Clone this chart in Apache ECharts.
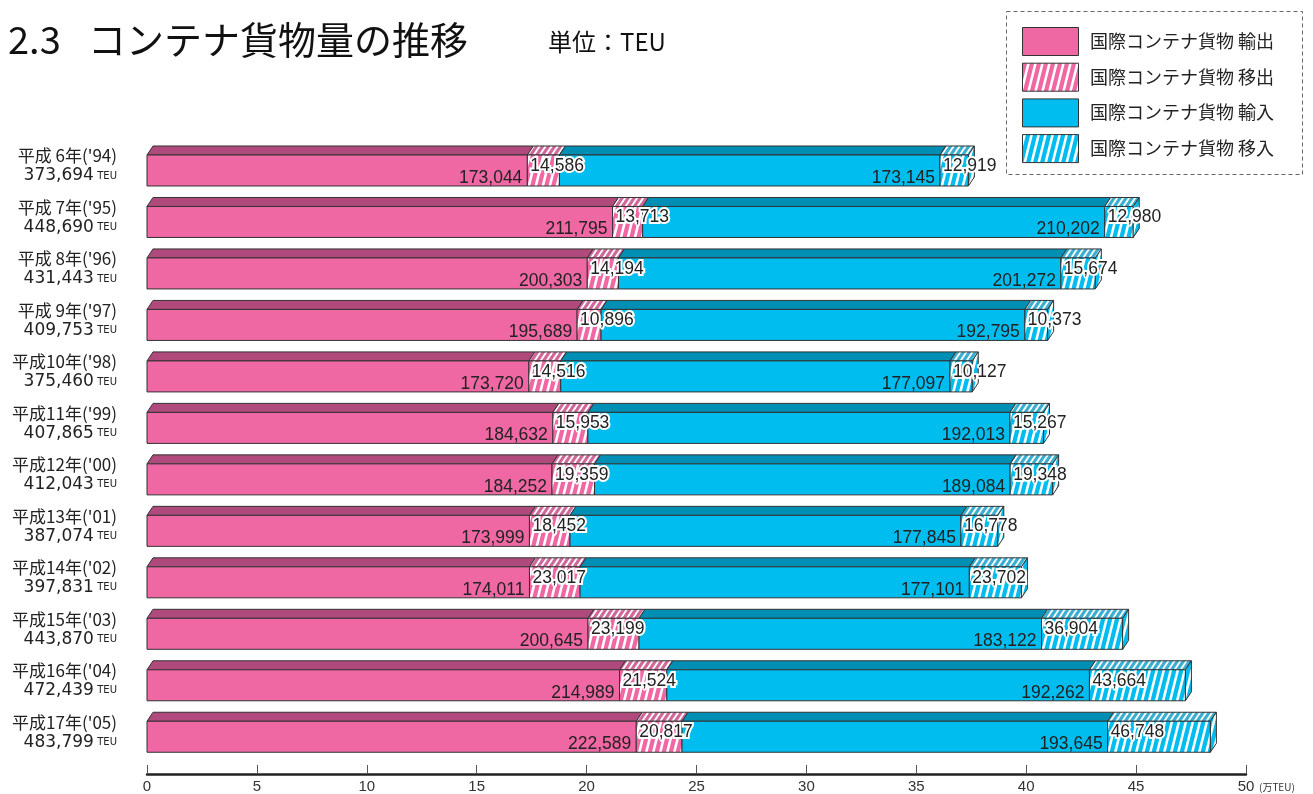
<!DOCTYPE html>
<html><head><meta charset="utf-8">
<script src="https://cdn.jsdelivr.net/npm/echarts@6/dist/echarts.min.js"></script>
<style>html,body{margin:0;padding:0;background:#fff}#c{width:1313px;height:794px}</style>
</head><body><div id="c"></div>
<script>
// ---- data ----
const years = ["平成 6年('94)","平成 7年('95)","平成 8年('96)","平成 9年('97)","平成10年('98)","平成11年('99)","平成12年('00)","平成13年('01)","平成14年('02)","平成15年('03)","平成16年('04)","平成17年('05)"];
const intlExport = [173044,211795,200303,195689,173720,184632,184252,173999,174011,200645,214989,222589];
const domExport  = [14586,13713,14194,10896,14516,15953,19359,18452,23017,23199,21524,20817];
const intlImport = [173145,210202,201272,192795,177097,192013,189084,177845,177101,183122,192262,193645];
const domImport  = [12919,12980,15674,10373,10127,15267,19348,16778,23702,36904,43664,46748];
const seriesNames = ['国際コンテナ貨物 輸出','国際コンテナ貨物 移出','国際コンテナ貨物 輸入','国際コンテナ貨物 移入'];
const xMin = 0, xMax = 50, xInterval = 5;
const UNIT = 10000; // values in TEU, axis in 万TEU

// ---- styling helpers ----
const PINK = '#EF68A4', PINK_TOP = '#B04A7C';
const CYAN = '#00BDEF', CYAN_TOP = '#008FB4';
function makeHatch(base, w, h, stripe) {
  const c = document.createElement('canvas'); c.width = w; c.height = h;
  const g = c.getContext('2d'); g.fillStyle = base; g.fillRect(0, 0, w, h);
  g.fillStyle = '#fff';
  for (let k = -2; k <= 2; k++) {
    const x0 = k * w;
    g.beginPath(); g.moveTo(x0 + w, 0); g.lineTo(x0 + w + stripe, 0);
    g.lineTo(x0 + stripe, h); g.lineTo(x0, h); g.closePath(); g.fill();
  }
  return c;
}
const pinkHatch = {image: makeHatch(PINK, 7, 28, 2.6), repeat: 'repeat'};
const pinkHatchTop = {image: makeHatch('#D0699A', 6, 9, 2.2), repeat: 'repeat'};
const cyanHatch = {image: makeHatch(CYAN, 7, 28, 2.6), repeat: 'repeat'};
const cyanHatchTop = {image: makeHatch('#3AAFD2', 6, 9, 2.2), repeat: 'repeat'};

const segStyles = [
  {front: PINK, top: PINK_TOP, label: 'end', halo: false},
  {front: pinkHatch, top: pinkHatchTop, label: 'start', halo: true},
  {front: CYAN, top: CYAN_TOP, label: 'end', halo: false},
  {front: cyanHatch, top: cyanHatchTop, label: 'start', halo: true, side: true}
];
const allValues = [intlExport, domExport, intlImport, domImport];
const fmt = v => v.toLocaleString('en-US');

function makeRender(k) {
  const st = segStyles[k];
  return function (params, api) {
    const cat = api.value(0), s = api.value(1), e = api.value(2), v = api.value(3);
    const p0 = api.coord([s, cat]), p1 = api.coord([e, cat]);
    const cy = p0[1], x0 = p0[0], x1 = p1[0];
    const yt = cy - 20, ym = cy - 11, yb = cy + 20, dx = 6;
    const border = {stroke: '#333', lineWidth: 1};
    const children = [
      {type: 'polygon', z2: 1, shape: {points: [[x0, ym], [x0 + dx, yt], [x1 + dx, yt], [x1, ym]]}, style: Object.assign({fill: st.top}, border)},
      {type: 'rect', z2: 1, shape: {x: x0, y: ym, width: x1 - x0, height: yb - ym}, style: Object.assign({fill: st.front}, border)}
    ];
    if (st.side) {
      children.push({type: 'polygon', z2: 1, shape: {points: [[x1, ym], [x1 + dx, yt], [x1 + dx, yb - 9], [x1, yb]]}, style: Object.assign({fill: st.front}, border)});
    }
    const ts = {text: fmt(v), fontSize: 17.5, fontFamily: '"Liberation Sans", Arial, sans-serif', fill: '#222', verticalAlign: 'middle'};
    if (st.label === 'end') { ts.x = x1 - 5; ts.y = cy + 12; ts.align = 'right'; }
    else { ts.x = x0 + 3; ts.y = cy; ts.align = 'left'; ts.stroke = '#fff'; ts.lineWidth = 4; }
    children.push({type: 'text', z2: 100, style: ts});
    return {type: 'group', children: children};
  };
}

const series = allValues.map((vals, k) => {
  const data = vals.map((v, i) => {
    let start = 0;
    for (let j = 0; j < k; j++) start += allValues[j][i];
    return [i, start / UNIT, (start + v) / UNIT, v];
  });
  return {
    type: 'custom', name: seriesNames[k], coordinateSystem: 'cartesian2d',
    encode: {x: [1, 2], y: 0}, data: data, renderItem: makeRender(k), z: 2
  };
});

const totals = years.map((_, i) => allValues.reduce((a, arr) => a + arr[i], 0));

// legend built from names
const legendGraphic = [{type: 'rect', shape: {x: 1006.5, y: 11.5, width: 296, height: 163}, style: {fill: 'none', stroke: '#666', lineWidth: 1, lineDash: [4, 3]}}];
seriesNames.forEach((n, k) => {
  const y = 27 + k * 35.7;
  legendGraphic.push({type: 'rect', shape: {x: 1022.5, y: y + 0.5, width: 56, height: 28}, style: {fill: segStyles[k].front, stroke: '#333', lineWidth: 1}});
  legendGraphic.push({type: 'text', style: {text: n, x: 1090, y: y + 14, verticalAlign: 'middle', fontSize: 18, fontFamily: '"Noto Sans CJK JP", sans-serif', fill: '#222'}});
});

const chart = echarts.init(document.getElementById('c'));
chart.setOption({
  animation: false,
  backgroundColor: '#fff',
  grid: {left: 147, right: 67, top: 140.25, bottom: 35.75, containLabel: false},
  xAxis: {
    type: 'value', min: xMin, max: xMax, interval: xInterval, offset: 16,
    axisLine: {show: true, lineStyle: {color: '#222', width: 2.5}},
    axisTick: {show: true, inside: true, length: 9, lineStyle: {color: '#555', width: 1}},
    axisLabel: {fontSize: 15, color: '#333', margin: 5, fontFamily: '"Liberation Sans", Arial, sans-serif'},
    splitLine: {show: false}
  },
  yAxis: {
    type: 'category', inverse: true, data: years,
    axisLine: {show: false}, axisTick: {show: false}, splitLine: {show: false},
    axisLabel: {
      margin: 30, align: 'right',
      formatter: (val, idx) => '{y|' + val + '}\n{n|' + fmt(totals[idx]) + '} {u|TEU}',
      rich: {
        y: {fontSize: 17, fontFamily: '"Noto Sans CJK JP", sans-serif', color: '#222', lineHeight: 20, align: 'right'},
        n: {fontSize: 17, fontFamily: '"DejaVu Sans", sans-serif', color: '#222', lineHeight: 20},
        u: {fontSize: 10, fontFamily: '"DejaVu Sans", sans-serif', color: '#222', lineHeight: 20}
      }
    }
  },
  graphic: [
    {type: 'text', style: {text: '2.3', x: 8, y: 40, verticalAlign: 'middle', fontSize: 38, fontFamily: '"Noto Sans CJK JP", sans-serif', fill: '#111'}},
    {type: 'text', style: {text: 'コンテナ貨物量の推移', x: 88, y: 40, verticalAlign: 'middle', fontSize: 38, fontFamily: '"Noto Sans CJK JP", sans-serif', fill: '#111'}},
    {type: 'text', style: {text: '単位：TEU', x: 548, y: 42, verticalAlign: 'middle', fontSize: 24, fontFamily: '"Noto Sans CJK JP", sans-serif', fill: '#111'}},
    {type: 'text', style: {text: '(万TEU)', x: 1259, y: 787, verticalAlign: 'middle', fontSize: 10, fontFamily: '"Noto Sans CJK JP", sans-serif', fill: '#333'}}
  ].concat(legendGraphic),
  series: series
});
</script></body></html>
